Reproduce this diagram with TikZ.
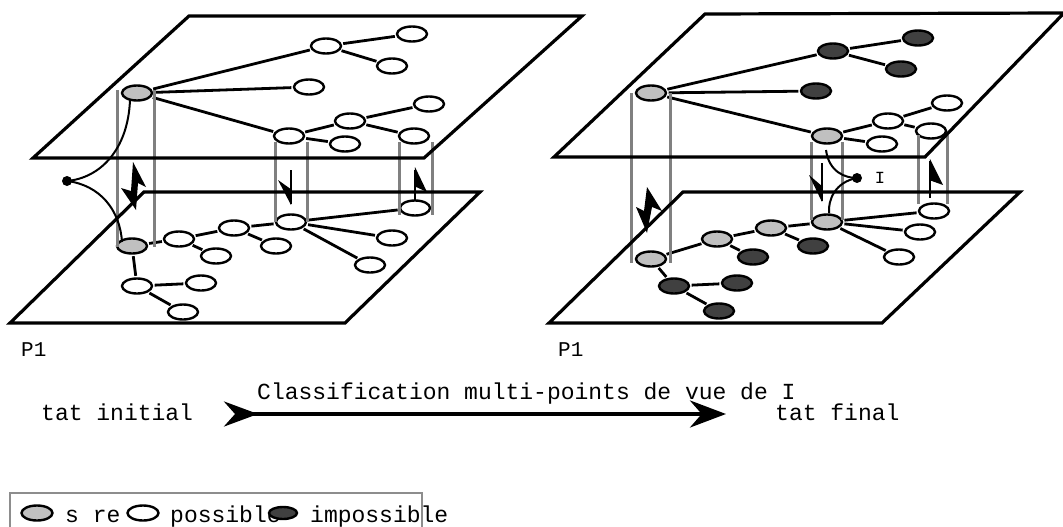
\documentclass[tikz,border=0pt]{standalone}
\usepackage{fontspec}
\setmainfont{Liberation Mono}
\usetikzlibrary{shapes.geometric}
\usetikzlibrary{arrows.meta}

\definecolor{suregrey}{RGB}{192,192,192}
\definecolor{impgrey}{RGB}{64,64,64}
\definecolor{cylgrey}{RGB}{128,128,128}

\tikzset{
  tree/.style={ellipse, draw, line width=2.4pt, minimum width=30pt, minimum height=15pt, inner sep=0pt},
  sure/.style={tree, fill=suregrey},
  poss/.style={tree, fill=white},
  imposs/.style={tree, fill=impgrey},
  link/.style={line width=2.8pt, shorten <=1.5pt, shorten >=1.5pt},
  plane/.style={line width=3.2pt, line join=miter},
  cyl/.style={line width=3pt, cylgrey},
  bolt/.style={fill=black},
  stem/.style={line width=2.8pt},
  txt/.style={font=\fontsize{23}{23}\selectfont, inner sep=0pt, anchor=base west},
}

\begin{document}
\begin{tikzpicture}[x=1pt, y=-1pt]
    \useasboundingbox (0,0) rectangle (1063,527);

    % planes (left)
    \coordinate (ltA) at (189,16);
    \coordinate (ltB) at (582,16);
    \coordinate (ltC) at (424,158);
    \coordinate (ltD) at (33,158);
    \coordinate (lbA) at (144,192);
    \coordinate (lbB) at (480,192);
    \coordinate (lbC) at (345,323);
    \coordinate (lbD) at (10,323);
    % planes (right)
    \coordinate (rtA) at (705,14);
    \coordinate (rtB) at (1064,13);
    \coordinate (rtC) at (925,157);
    \coordinate (rtD) at (554,157);
    \coordinate (rbA) at (683,192);
    \coordinate (rbB) at (1020,192);
    \coordinate (rbC) at (882,323);
    \coordinate (rbD) at (549,323);

    % left, upper level
    \node[sure] (lt0) at (137,93) {};
    \node[poss] (lt1) at (326,46) {};
    \node[poss] (lt2) at (412,34) {};
    \node[poss] (lt3) at (392,66) {};
    \node[poss] (lt4) at (309,87) {};
    \node[poss] (lt5) at (289,136) {};
    \node[poss] (lt6) at (350,121) {};
    \node[poss] (lt7) at (429,104) {};
    \node[poss] (lt8) at (414,136) {};
    \node[poss] (lt9) at (345,144) {};
    % left, lower level
    \node[sure] (lb0) at (132,246) {};
    \node[poss] (lb1) at (179,239) {};
    \node[poss] (lb2) at (234,228) {};
    \node[poss] (lb3) at (216,256) {};
    \node[poss] (lb4) at (291,222) {};
    \node[poss] (lb5) at (276,246) {};
    \node[poss] (lb6) at (415,208) {};
    \node[poss] (lb7) at (392,238) {};
    \node[poss] (lb8) at (370,265) {};
    \node[poss] (lb9) at (137,286) {};
    \node[poss] (lb10) at (201,283) {};
    \node[poss] (lb11) at (183,312) {};

    % right, upper level
    \node[sure] (rt0) at (651,93) {};
    \node[imposs] (rt1) at (833,51) {};
    \node[imposs] (rt2) at (918,38) {};
    \node[imposs] (rt3) at (901,69) {};
    \node[imposs] (rt4) at (816,91) {};
    \node[sure] (rt5) at (827,136) {};
    \node[poss] (rt6) at (888,121) {};
    \node[poss] (rt7) at (947,103) {};
    \node[poss] (rt8) at (931,131) {};
    \node[poss] (rt9) at (882,144) {};
    % right, lower level
    \node[sure] (rb0) at (651,259) {};
    \node[sure] (rb1) at (717,239) {};
    \node[sure] (rb2) at (771,228) {};
    \node[imposs] (rb3) at (753,257) {};
    \node[sure] (rb4) at (827,222) {};
    \node[imposs] (rb5) at (813,246) {};
    \node[poss] (rb6) at (934,211) {};
    \node[poss] (rb7) at (920,232) {};
    \node[poss] (rb8) at (899,257) {};
    \node[imposs] (rb9) at (674,286) {};
    \node[imposs] (rb10) at (737,283) {};
    \node[imposs] (rb11) at (719,311) {};

    \foreach \s in {l,r} {
      \foreach \a/\b in {0/1,1/2,1/3,0/4,0/5,5/6,6/7,6/8,5/9} {
        \draw[link] (\s t\a) -- (\s t\b);
      }
      \foreach \a/\b in {0/1,1/2,1/3,2/4,2/5,4/6,4/7,4/8,0/9,9/10,9/11} {
        \draw[link] (\s b\a) -- (\s b\b);
      }
    }

    % cylinders
    \draw[cyl] (117,90) -- (117,247);
    \draw[cyl] (154,90) -- (154,247);
    \draw[cyl] (275,142) -- (275,222);
    \draw[cyl] (307,142) -- (307,222);
    \draw[cyl] (399,142) -- (399,215);
    \draw[cyl] (432,142) -- (432,215);
    \draw[cyl] (631,93) -- (631,263);
    \draw[cyl] (670,93) -- (670,263);
    \draw[cyl] (811,142) -- (811,220);
    \draw[cyl] (842,142) -- (842,220);
    \draw[cyl] (918,135) -- (918,204);
    \draw[cyl] (947,135) -- (947,204);

    \draw[plane] (ltA) -- (ltB) -- (ltC) -- (ltD) -- cycle;
    \draw[plane] (lbA) -- (lbB) -- (lbC) -- (lbD) -- cycle;
    \draw[plane] (rtA) -- (rtB) -- (rtC) -- (rtD) -- cycle;
    \draw[plane] (rbA) -- (rbB) -- (rbC) -- (rbD) -- cycle;

    % bolts
    \fill[bolt] (133,162) -- (146,187) -- (138,183) -- (136,210) -- (121,188) -- (131,191) -- cycle;
    \fill[bolt] (647,187) -- (662,211) -- (652,207) -- (647,233) -- (636,207) -- (644,211) -- cycle;
    \draw[stem] (291,170) -- (291,204);
    \fill[bolt] (278,180) -- (292,190) -- (291,205) -- cycle;
    \draw[stem] (415,200) -- (415,170);
    \fill[bolt] (415,167) -- (427,192) -- (414,186) -- cycle;
    \draw[stem] (822,163) -- (822,201);
    \fill[bolt] (809,175) -- (823,187) -- (822,202) -- cycle;
    \draw[stem] (930,198) -- (930,161);
    \fill[bolt] (930,159) -- (943,185) -- (929,180) -- cycle;

    % points of view
    \fill (67,181) circle (5pt) coordinate (lpov);
    \draw[line width=2pt] (130,100) .. controls (128,150) and (100,178) .. (lpov);
    \draw[line width=2pt] (lpov) .. controls (100,185) and (120,210) .. (122,242);
    \fill (857,178) circle (5pt) coordinate (rpov);
    \draw[line width=2pt] (826,150) .. controls (829,172) and (845,178) .. (rpov);
    \draw[line width=2pt] (rpov) .. controls (835,182) and (828,200) .. (829,213);
    \node[font=\fontsize{17}{17}\selectfont, inner sep=0pt] (ilabel) at (880,178) {I};

    \node[txt, font=\fontsize{21}{21}\selectfont] (lname) at (21,356) {P1};
    \node[txt, font=\fontsize{21}{21}\selectfont] (rname) at (558,356) {P1};

    % classification
    \node[txt] (init) at (41,420) {tat initial};
    \node[txt] (final) at (775,420) {tat final};
    \node[txt] (what) at (257,399) {Classification multi-points de vue de I};
    \coordinate (from) at (224,414);
    \coordinate (to) at (726,414);
    \draw[line width=4pt, {Stealth[reversed,length=34pt,width=25pt]}-{Stealth[length=36pt,width=27pt]}] (from) -- (to);

    % legend
    \draw[line width=2pt, cylgrey!90] (10,493) rectangle (422,540);
    \node[sure, minimum width=31pt] (keysure) at (37,513) {};
    \node[txt] (tsure) at (65,522) {s re};
    \node[poss, minimum width=31pt] (keyposs) at (143,513) {};
    \node[txt] (tposs) at (170,522) {possible};
    \node[imposs, minimum width=28pt, minimum height=12pt] (keyimp) at (283,513) {};
    \node[txt] (timp) at (310,522) {impossible};
  \end{tikzpicture}
\end{document}
